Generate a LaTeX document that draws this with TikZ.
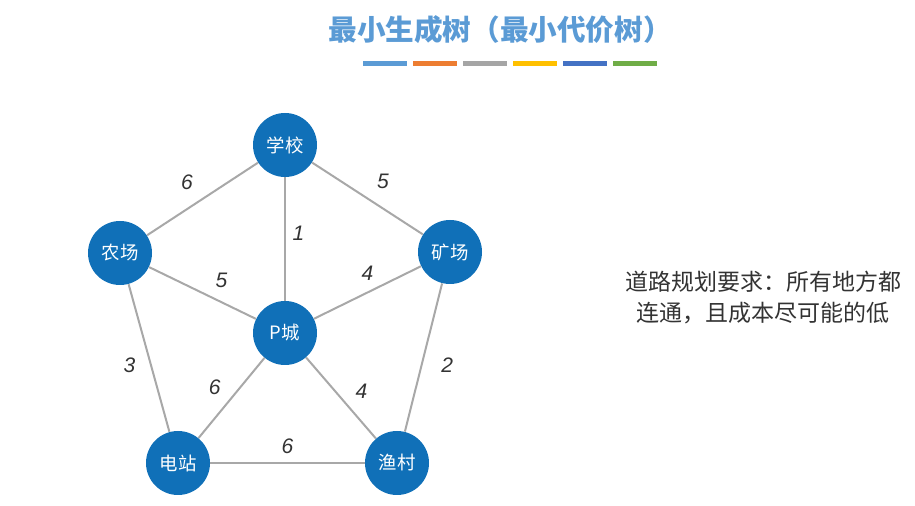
\documentclass[tikz,border=0pt]{standalone}
\usepackage{fontspec}
\setmainfont{Noto Sans CJK SC}
\newfontfamily\numfont{Liberation Sans}
\definecolor{mst-blue}{HTML}{1070B8}
\definecolor{mst-title}{HTML}{5B9BD5}
\definecolor{mst-gray}{HTML}{A8A8A8}
\definecolor{mst-dark}{HTML}{333333}
\definecolor{bar-blue}{HTML}{5B9BD5}
\definecolor{bar-orange}{HTML}{ED7D31}
\definecolor{bar-gray}{HTML}{A5A5A5}
\definecolor{bar-yellow}{HTML}{FFC000}
\definecolor{bar-navy}{HTML}{4472C4}
\definecolor{bar-green}{HTML}{70AD47}

\begin{document}
\begin{tikzpicture}[
    x=0.5pt, y=-0.5pt,
    city/.style={circle, fill=mst-blue, text=white, minimum size=32pt,
                 inner sep=0pt, font=\fontsize{9.2}{9.2}\selectfont},
    road/.style={draw=mst-gray, line width=1pt},
    cost/.style={font=\numfont\itshape\fontsize{10.5}{10.5}\selectfont, text=mst-dark},
    bar/.style={minimum width=22pt, minimum height=2.5pt, inner sep=0pt},
  ]
    \useasboundingbox (0,0) rectangle (915,506);

    % Title
    \node[font=\bfseries\fontsize{14.3}{14.3}\selectfont, text=mst-title] (title) at (500,30)
          {最小生成树（最小代价树）};
    \foreach \c [count=\i] in {bar-blue,bar-orange,bar-gray,bar-yellow,bar-navy,bar-green}
      \node[bar, fill=\c] (bar\i) at ({384.5+50*(\i-1)},64) {};

    % Places
    \node[city] (school) at (285,145) {学校};
    \node[city] (farm)   at (120,253) {农场};
    \node[city] (mine)   at (450,252) {矿场};
    \node[city] (pcity)  at (285,333) {P城};
    \node[city] (power)  at (178,463) {电站};
    \node[city] (fish)   at (397,463) {渔村};

    % Roads
    \draw[road] (school) -- node[cost, above left=1pt]{6} (farm);
    \draw[road] (school) -- node[cost, above right=1pt]{5} (mine);
    \draw[road] (school) -- node[cost, right=0pt, pos=0.45]{1} (pcity);
    \draw[road] (farm)   -- node[cost, above right=0pt, pos=0.55]{5} (pcity);
    \draw[road] (mine)   -- node[cost, above=2pt]{4} (pcity);
    \draw[road] (farm)   -- node[cost, left=4pt, pos=0.55]{3} (power);
    \draw[road] (pcity)  -- node[cost, above left=0pt, pos=0.55]{6} (power);
    \draw[road] (pcity)  -- node[cost, above right=0pt, pos=0.6]{4} (fish);
    \draw[road] (mine)   -- node[cost, right=6pt, pos=0.55]{2} (fish);
    \draw[road] (power)  -- node[cost, above=1pt]{6} (fish);

    % Requirement
    \node[align=center, text=mst-dark, font=\fontsize{11.5}{15.5}\selectfont] (note) at (763,298)
          {道路规划要求：所有地方都\\连通，且成本尽可能的低};
  \end{tikzpicture}
\end{document}
